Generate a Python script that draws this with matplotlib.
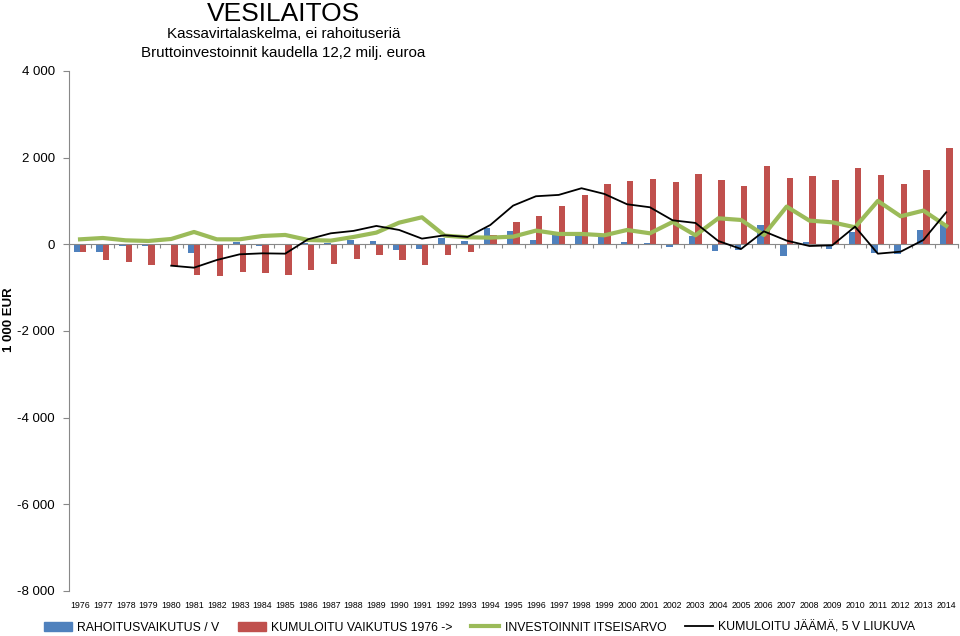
import matplotlib.pyplot as plt
from matplotlib.lines import Line2D
from matplotlib.patches import Patch
from matplotlib.ticker import FuncFormatter
import numpy as np

years = list(range(1976, 2015))

# RAHOITUSVAIKUTUS / V
rahoitus = [-170, -185, -30, -30, 0, -208, 0, 60, -30, 0, 20, 40, 92,
            77, -123, -115, 154, 77, 370, 300, 108, 223, 208, 185, 62,
            30, -62, 185, -146, -139, 446, -277, 46, -115, 285, -200, -216,
            323, 462]
# KUMULOITU VAIKUTUS 1976 ->
kumuloitu = [-170, -362, -415, -477, -493, -700, -724, -647, -670, -700, -600,
             -462, -331, -246, -370, -470, -254, -170, 216, 523, 647, 885,
             1132, 1386, 1463, 1500, 1440, 1632, 1494, 1355, 1817, 1540,
             1586, 1478, 1771, 1594, 1386, 1709, 2233]
# INVESTOINNIT ITSEISARVO
investoinnit = [115, 146, 92, 77, 123, 285, 115, 115, 192, 216, 100, 85, 170,
                270, 500, 624, 200, 162, 154, 177, 316, 239, 239, 208, 331,
                254, 516, 208, 600, 562, 216, 870, 547, 508, 393, 1001, 647,
                778, 424]
# KUMULOITU JÄÄMÄ, 5 V LIUKUVA (alkaa 1980)
jaama = [None, None, None, None, -493, -539, -362, -231, -208, -216, 115,
         254, 310, 424, 331, 131, 208, 170, 446, 893, 1109, 1140, 1294,
         1163, 924, 855, 554, 493, 77, -108, 300, 85, -39, -23, 408, -216,
         -170, 100, 739]

blue = '#4F81BD'
red = '#C0504D'
green = '#9BBB59'

fig = plt.figure(figsize=(9.6, 6.36), dpi=100)
ax = fig.add_axes([0.0715, 0.0708, 0.926, 0.8176])

x = np.arange(len(years))
w = 0.28
ax.bar(x - w / 2, rahoitus, w, color=blue, zorder=2)
ax.bar(x + w / 2, kumuloitu, w, color=red, zorder=2)
ax.plot(x, investoinnit, color=green, lw=3, zorder=3)
jx = [i for i, v in enumerate(jaama) if v is not None]
jy = [v for v in jaama if v is not None]
ax.plot(jx, jy, color='black', lw=1.3, zorder=4)

ax.set_xlim(-0.5, len(years) - 0.5)
ax.set_ylim(-8000, 4000)
ax.set_yticks(range(-8000, 4001, 2000))
ax.yaxis.set_major_formatter(FuncFormatter(lambda v, p: f'{int(v):,}'.replace(',', ' ')))
ax.tick_params(axis='y', length=4, color='#888888', labelsize=9.5, pad=6)
for lab in ax.get_yticklabels():
    lab.set_family(['Liberation Sans', 'DejaVu Sans'])

for s in ['top', 'right']:
    ax.spines[s].set_visible(False)
ax.spines['left'].set_color('#888888')
ax.spines['bottom'].set_position(('data', 0))
ax.spines['bottom'].set_color('#888888')
ax.set_xticks(np.arange(-0.5, len(years), 1.0))
ax.set_xticklabels([])
ax.tick_params(axis='x', length=3, color='#888888', direction='out')

sec = ax.secondary_xaxis('bottom')
sec.set_xticks(x)
sec.set_xticklabels([str(y) for y in years], fontsize=6.3, family='Liberation Sans')
sec.tick_params(length=0, pad=7)
sec.spines['bottom'].set_visible(False)

fig.text(0.2953, 1 - 21 / 636, 'VESILAITOS', ha='center', va='baseline',
         fontsize=19, family='Liberation Sans')
fig.text(0.2953, 1 - 38 / 636, 'Kassavirtalaskelma, ei rahoituseriä', ha='center',
         va='baseline', fontsize=10.9, family='Liberation Sans')
fig.text(0.2953, 1 - 57 / 636, 'Bruttoinvestoinnit kaudella 12,2 milj. euroa',
         ha='center', va='baseline', fontsize=10.9, family='Liberation Sans')

fig.text(0.009, 0.497, '1 000 EUR', rotation=90, ha='center', va='center',
         fontsize=9.5, fontweight='bold', family='Liberation Sans')

handles = [Patch(color=blue), Patch(color=red),
           Line2D([], [], color=green, lw=3), Line2D([], [], color='black', lw=1.3)]
labels = ['RAHOITUSVAIKUTUS / V', 'KUMULOITU VAIKUTUS 1976 ->',
          'INVESTOINNIT ITSEISARVO', 'KUMULOITU JÄÄMÄ, 5 V LIUKUVA']
fig.legend(handles, labels, loc='center', bbox_to_anchor=(0.4995, 0.013), ncol=4,
           frameon=False, handlelength=2.3, handleheight=0.8, handletextpad=0.45,
           columnspacing=1.5, borderpad=0,
           prop={'family': 'Liberation Sans', 'size': 8.8})

fig.savefig('out.png', dpi=100)
